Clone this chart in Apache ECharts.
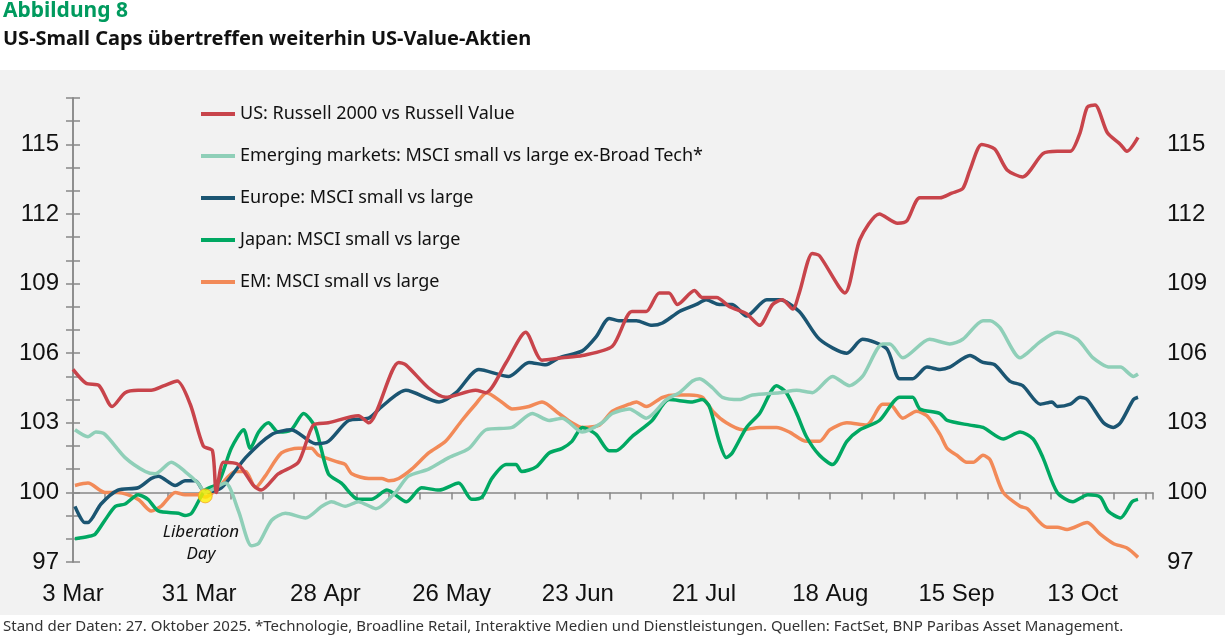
<!DOCTYPE html>
<html>
<head>
<meta charset="utf-8">
<script src="https://cdn.jsdelivr.net/npm/echarts@6/dist/echarts.min.js"></script>
<style>
  html, body { margin: 0; padding: 0; background: #fff; }
  #chart { width: 1225px; height: 643px; }
</style>
</head>
<body>
<div id="chart"></div>
<script>
// x = trading-day position, 4 weeks between labels
var tickLabels = ['3 Mar', '31 Mar', '28 Apr', '26 May', '23 Jun', '21 Jul', '18 Aug', '15 Sep', '13 Oct'];
var labelStep = 19.375;

var seriesNames = [
  'US: Russell 2000 vs Russell Value',
  'Emerging markets: MSCI small vs large ex-Broad Tech*',
  'Europe: MSCI small vs large',
  'Japan: MSCI small vs large',
  'EM: MSCI small vs large'
];
var colors = ['#c8444b', '#8fcfb8', '#1b5572', '#00a862', '#f28a58'];

var usRussell = [[0,105.3],[2,104.7],[4,104.6],[6,103.7],[8,104.3],[10,104.4],[12,104.4],[14,104.6],[16,104.8],[18,103.8],[20,102.0],[21.4,101.8],[22,100.0],[23.1,101.3],[25.4,101.2],[27.7,100.3],[28.9,100.1],[31.5,100.8],[34.6,101.3],[36.9,102.9],[39.2,103.0],[43.8,103.3],[45.4,103.0],[50,105.6],[51.1,105.5],[54.6,104.5],[57.2,104.1],[61.8,104.4],[63.4,104.3],[66.5,105.6],[69.5,106.9],[72,105.7],[75.1,105.8],[78.2,105.9],[82.8,106.3],[85.8,107.8],[88,107.8],[90,108.6],[91.5,108.6],[92.8,108.1],[95.4,108.7],[96.6,108.4],[98.8,108.4],[100.8,108.0],[103.4,107.7],[105.4,107.2],[107.4,108.1],[108.9,108.3],[110.5,107.9],[111.5,108.6],[113.5,110.3],[114.6,110.2],[118.5,108.6],[120.8,110.9],[123.8,112.0],[126.6,111.6],[128,111.7],[130,112.7],[133.1,112.7],[134.9,112.9],[136.6,113.1],[137.7,113.9],[139.5,115.0],[141.5,114.8],[143.4,113.9],[145.8,113.6],[148.9,114.6],[151.1,114.7],[153.1,114.7],[154.6,115.5],[155.7,116.6],[156.9,116.7],[158.8,115.5],[160.8,115.0],[161.8,114.7],[163.5,115.3]];

var emExTech = [[0.3,102.7],[2.3,102.4],[3.5,102.6],[4.9,102.5],[8,101.5],[11.1,100.9],[12.6,100.8],[15.1,101.3],[17.2,100.9],[19.2,100.4],[20.3,100.0],[23.4,100.4],[25.4,99.2],[27.4,97.7],[28.5,97.8],[30.5,98.8],[32.6,99.1],[35.7,98.9],[38.2,99.4],[39.7,99.6],[41.8,99.4],[43.8,99.6],[46.5,99.3],[49.5,100.0],[51.5,100.7],[54.6,101.0],[57.7,101.5],[60.8,101.9],[63.4,102.7],[67.4,102.8],[70.5,103.4],[73.1,103.1],[75.1,103.2],[78.2,102.6],[81.2,103.0],[82.8,103.4],[85.4,103.6],[88,103.2],[91.1,104.0],[93.1,104.3],[95.1,104.8],[96.2,104.9],[98.2,104.5],[99.7,104.1],[102.3,104.0],[104.3,104.2],[108.5,104.3],[111.1,104.4],[113.5,104.3],[116.6,105.0],[119.2,104.6],[121.2,105.0],[124.3,106.4],[125.4,106.4],[127.4,105.8],[131.5,106.6],[134.6,106.4],[136.6,106.6],[139.7,107.4],[140.8,107.4],[142.3,107.1],[145.4,105.8],[146.5,106.0],[148.5,106.5],[151.1,106.9],[154.2,106.6],[156.6,105.8],[159.2,105.4],[160.8,105.4],[162.8,105.0],[163.5,105.1]];

var europe = [[0.3,99.4],[1.8,98.7],[2.3,98.7],[4.3,99.5],[6.9,100.1],[10,100.2],[12,100.6],[13.1,100.7],[15.7,100.3],[17.2,100.5],[18.8,100.5],[20.3,100.0],[22.8,100.2],[26.5,101.5],[30.5,102.5],[33.5,102.7],[37.2,102.1],[39.2,102.2],[42.3,103.1],[45.4,103.2],[47.4,103.7],[51.1,104.4],[56.2,103.9],[58.8,104.3],[62.3,105.3],[66.9,105.0],[70,105.6],[72.6,105.5],[74.6,105.8],[78.2,106.1],[80.3,106.7],[82.3,107.5],[83.8,107.4],[86.5,107.4],[88.9,107.2],[90.5,107.3],[93.1,107.8],[95.7,108.1],[97.2,108.3],[99.2,108.1],[101.2,108.1],[103.4,107.6],[106.5,108.3],[108.5,108.3],[111.5,107.8],[114.6,106.6],[118.8,106.0],[121.2,106.6],[124.9,106.2],[126.9,104.9],[128.9,104.9],[131.1,105.4],[133.1,105.3],[134.6,105.4],[137.7,105.9],[139.7,105.6],[141.5,105.5],[143.8,104.8],[145.8,104.6],[148.5,103.8],[150.3,103.9],[151.1,103.7],[153.1,103.8],[154.6,104.1],[155.7,104.0],[158.2,103.0],[159.7,102.8],[160.8,103.0],[162.8,104.0],[163.5,104.1]];

var japan = [[0.3,98.0],[2.3,98.1],[3.4,98.2],[4.9,98.8],[6.5,99.4],[8,99.5],[10,99.9],[11.5,99.7],[13.1,99.2],[16.2,99.1],[17.2,99.0],[18.2,99.1],[20.3,100.1],[22.3,100.4],[24.3,101.9],[26.2,102.7],[27.2,101.9],[28.5,102.6],[30,103.0],[31.5,102.6],[33.5,102.7],[35.4,103.4],[37.2,102.8],[39.2,100.8],[41.2,100.4],[43.8,99.7],[45.8,99.7],[48.2,100.1],[51.2,99.6],[53.5,100.2],[56.2,100.1],[59.2,100.4],[61.2,99.7],[62.8,99.8],[64.3,100.6],[66.5,101.2],[68,101.2],[68.9,100.9],[71.1,101.1],[73.1,101.7],[75.1,101.9],[76.6,102.2],[78.2,102.8],[80.3,102.5],[82.3,101.8],[83.4,101.8],[85.8,102.4],[88.9,103.1],[91.5,104.0],[95.1,103.9],[96.6,104.0],[97.7,103.7],[99.2,102.2],[100.3,101.5],[101.2,101.7],[103.4,102.8],[105.4,103.4],[108,104.6],[109.5,104.3],[111.1,103.4],[112.6,102.4],[114.6,101.6],[116.6,101.2],[118.8,102.2],[120.8,102.7],[123.8,103.1],[126.9,104.1],[128.9,104.1],[130,103.6],[133.1,103.4],[134.2,103.1],[137.7,102.9],[139.7,102.8],[142.8,102.3],[145.4,102.6],[147.4,102.3],[148.9,101.5],[151.1,100.0],[153.5,99.6],[155.8,99.9],[157.7,99.8],[158.9,99.2],[160.8,98.9],[162.6,99.6],[163.5,99.7]];

var emSmallLarge = [[0.3,100.3],[2.3,100.4],[4.9,100.0],[6.9,100.0],[10,99.7],[12,99.2],[13.5,99.4],[15.7,100.0],[17.2,99.9],[19.2,99.9],[20.3,99.8],[22.3,100.2],[24.9,100.9],[26.5,100.9],[28,100.2],[29.5,100.7],[32,101.7],[34.6,101.9],[36.6,101.9],[37.7,101.6],[40.8,101.3],[41.8,101.2],[42.8,100.8],[45.4,100.6],[47.4,100.6],[48.5,100.5],[50,100.6],[52,101.0],[54.6,101.7],[57.2,102.2],[59.7,103.1],[61.8,103.8],[63.5,104.3],[65.8,103.9],[67.4,103.6],[70,103.7],[72,103.9],[74.6,103.4],[76.6,103.0],[78.2,102.8],[80.8,102.9],[82.8,103.5],[85.4,103.8],[86.5,103.9],[88,103.7],[90.5,104.1],[92.6,104.2],[94.6,104.2],[96.6,104.1],[98.2,103.5],[100.3,103.0],[102.8,102.7],[105.4,102.8],[108,102.8],[110,102.6],[112.6,102.2],[114.6,102.2],[116.2,102.7],[118.8,103.0],[121.8,102.9],[124.3,103.8],[125.4,103.8],[127.4,103.2],[129.5,103.5],[131.1,103.3],[133.1,102.5],[134.2,101.9],[135.7,101.6],[137.2,101.3],[138.2,101.3],[139.7,101.6],[140.8,101.4],[142.8,100.0],[145.4,99.4],[146.5,99.3],[149.5,98.5],[151.1,98.5],[152.6,98.4],[155.7,98.7],[157.7,98.2],[159.7,97.8],[161.8,97.6],[163.5,97.2]];

var seriesData = [usRussell, emExTech, europe, japan, emSmallLarge];
var liberationDay = [[20.3, 99.85]];

// y values are drawn relative to 100 so the x axis line sits on 100
function shift(arr) { return arr.map(function (p) { return [p[0], p[1] - 100]; }); }

var series = seriesData.map(function (d, i) {
  return {
    name: seriesNames[i], type: 'line', data: shift(d), showSymbol: false,
    smooth: 0.25, lineStyle: { width: 3.5, color: colors[i] }, itemStyle: { color: colors[i] },
    z: 10 - i
  };
});
series.push({
  type: 'scatter', data: shift(liberationDay), symbolSize: 14, z: 20,
  itemStyle: { color: '#ffef00', borderColor: '#f5a623', borderWidth: 1 }
});

var axisFont = 'Liberation Sans';
var yCommon = {
  type: 'value', min: -3, max: 17, interval: 3,
  splitLine: { show: false },
  axisLine: { show: true, lineStyle: { color: '#888', width: 1.5 } },
  axisTick: { show: true, length: 7, lineStyle: { color: '#888', width: 1.5 } },
  minorTick: { show: true, splitNumber: 3, length: 7, lineStyle: { color: '#888', width: 1.5 } },
  axisLabel: { fontSize: 24, color: '#111', fontFamily: axisFont, margin: 14,
    formatter: function (v) { return v % 3 === 0 ? String(v + 100) : ''; } }
};

var chart = echarts.init(document.getElementById('chart'));
chart.setOption({
  animation: false,
  grid: { left: 73, right: 72, top: 98, bottom: 81 },
  graphic: [
    { type: 'rect', z: -10, shape: { x: 0, y: 70, width: 1225, height: 545 }, style: { fill: '#f2f2f2' } },
    { type: 'text', left: 3, top: 1, style: { text: 'Abbildung 8', fill: '#009a5e', font: 'bold 21px "Noto Sans"' } },
    { type: 'text', left: 3, top: 29, style: { text: 'US-Small Caps übertreffen weiterhin US-Value-Aktien', fill: '#111', font: 'bold 20px "Noto Sans"' } },
    { type: 'text', left: 3, top: 619, style: { text: 'Stand der Daten: 27. Oktober 2025. *Technologie, Broadline Retail, Interaktive Medien und Dienstleistungen. Quellen: FactSet, BNP Paribas Asset Management.', fill: '#333', font: '15px "Noto Sans"' } },
    { type: 'text', x: 201, y: 521, z: 30, style: { text: 'Liberation\nDay', align: 'center', fill: '#111', font: 'italic 17px "Noto Sans"', lineHeight: 22 } }
  ],
  legend: {
    orient: 'vertical', left: 196, top: 100, itemGap: 24, itemWidth: 34, itemHeight: 18,
    data: seriesNames, icon: 'path://M0,7 L34,7 L34,11 L0,11 Z',
    textStyle: { fontSize: 18, color: '#111', fontFamily: 'Noto Sans' }
  },
  xAxis: [
    {
      type: 'value', min: 0, max: 165.8, interval: labelStep,
      axisLine: { onZero: true, lineStyle: { color: '#888', width: 1.5 } },
      axisTick: { show: true, length: 7, lineStyle: { color: '#888', width: 1.5 } },
      minorTick: { show: true, splitNumber: 4, length: 7, lineStyle: { color: '#888', width: 1.5 } },
      axisLabel: { show: false }, splitLine: { show: false }
    },
    {
      type: 'value', min: 0, max: 165.8, interval: labelStep, position: 'bottom',
      axisLine: { show: false, onZero: false }, axisTick: { show: false }, splitLine: { show: false },
      axisLabel: { fontSize: 24, color: '#111', fontFamily: axisFont, margin: 20, showMaxLabel: false,
        formatter: function (v) { return tickLabels[Math.round(v / labelStep)] || ''; } }
    }
  ],
  yAxis: [
    Object.assign({}, yCommon, { position: 'left' }),
    Object.assign({}, yCommon, { position: 'right' })
  ],
  series: series
});
</script>
</body>
</html>
